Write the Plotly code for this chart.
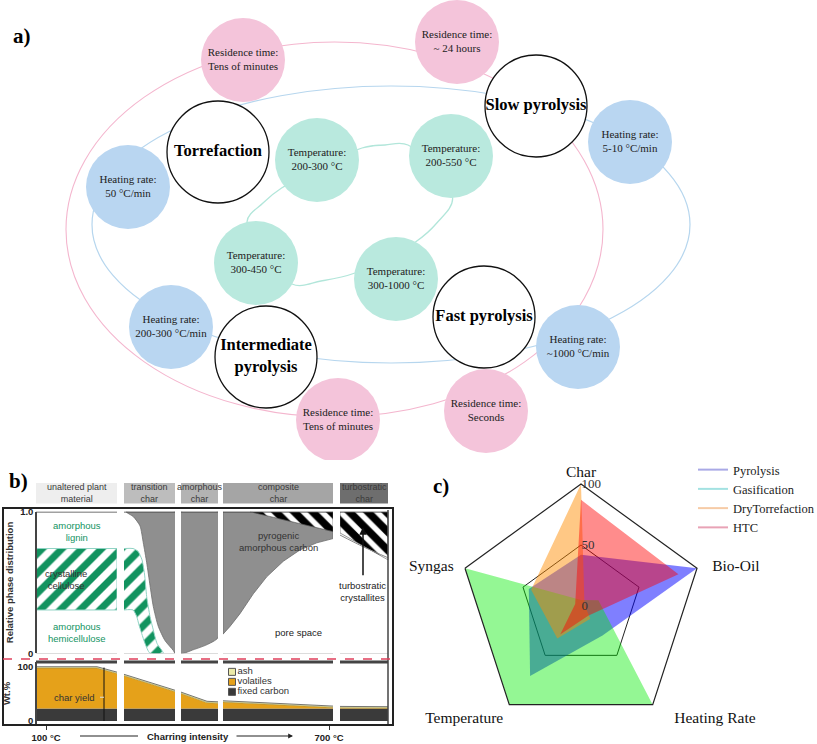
import plotly.graph_objects as go

W, H = 817, 744
SERIF = "Liberation Serif"
SANS = "Liberation Sans"
NB = "\u00a0"


def fx(px):
    return px / W


def fy(py):
    return 1 - py / H


# ---------------- panel c : radar data ----------------
radar_axes = ["Char", "Bio-Oil", "Heating Rate", "Temperature", "Syngas"]
pyrolysis = [42, 100, 30, 71, 45]
gasification = [5, 15, 100, 100, 100]
dry_torrefaction = [100, 3, 13, 33, 43]
htc = [87, 84, 10, 29, 5]
radar_ticks = [0, 50, 100]
series_names = ["Pyrolysis", "Gasification", "DryTorrefaction", "HTC"]

# ---------------- panel a : concept map ----------------
process_labels = ["<b>Torrefaction</b>", "<b>Slow pyrolysis</b>", "<b>Fast pyrolysis</b>",
                  "<b>Intermediate</b><br><b>pyrolysis</b>"]
process_x = [218, 536, 484, 266]
process_y = [152, 106, 317, 357]

residence_labels = ["Residence time:<br>Tens of minutes", "Residence time:<br>~ 24 hours",
                    "Residence time:<br>Seconds", "Residence time:<br>Tens of minutes"]
residence_x = [243, 457, 486, 338]
residence_y = [60, 42, 411, 420]

heating_labels = ["Heating rate:<br>50 °C/min", "Heating rate:<br>5-10 °C/min",
                  "Heating rate:<br>~1000 °C/min", "Heating rate:<br>200-300 °C/min"]
heating_x = [128, 630, 578, 171]
heating_y = [187, 142, 347, 327]

temperature_labels = ["Temperature:<br>200-300 °C", "Temperature:<br>200-550 °C",
                      "Temperature:<br>300-1000 °C", "Temperature:<br>300-450 °C"]
temperature_x = [317, 451, 396, 256]
temperature_y = [160, 156, 279, 263]

# loops linking the nodes
temperature_loop_x = [362, 385, 408, 452.6, 436.8, 415.8, 355, 321, 292, 247, 263, 281.6]
temperature_loop_y = [148, 145, 145, 198, 223, 241.7, 273, 281, 284, 222, 203, 188]
residence_ring = [66, 42, 603, 417]     # x0, y0, x1, y1
heating_ring = [92, 86, 690, 363]

# ---------------- panel b : char evolution ----------------
stage_names = ["unaltered plant<br>material", "transition<br>char", "amorphous<br>char",
               "composite<br>char", "turbostratic<br>char"]
stage_left = [36, 124, 181, 223, 340]
stage_right = [117, 175, 218, 333, 388]

cellulose_low, cellulose_high = 0.306, 0.74
trans_hatch_top_x = [124, 133, 138, 142, 144.5, 146.7, 150, 153.3, 157, 163.3]
trans_hatch_top_y = [0.74, 0.74, 0.72, 0.66, 0.56, 0.40, 0.26, 0.165, 0.07, 0.0]
trans_hatch_bot_x = [124, 133, 136.7, 139, 141.7, 145, 150]
trans_hatch_bot_y = [0.306, 0.306, 0.26, 0.20, 0.14, 0.07, 0.0]
trans_char_x = [126, 133.3, 140, 143.3, 146.7, 150, 153.3, 158.3, 165, 173.3, 175]
trans_char_y = [1.0, 0.965, 0.90, 0.78, 0.64, 0.48, 0.33, 0.19, 0.09, 0.02, 0.0]
amorph_char_x = [181, 193.3, 206.7, 218]
amorph_char_y = [0.0, 0.025, 0.06, 0.11]
comp_char_x = [223, 230, 240, 253.3, 266.7, 283.3, 300, 316.7, 333]
comp_char_y = [0.135, 0.19, 0.28, 0.42, 0.54, 0.65, 0.73, 0.78, 0.81]
comp_cryst_x = [250, 333]
comp_cryst_y = [1.0, 0.86]
turbo_x = [340, 388]
turbo_cryst_y = [0.85, 0.66]
turbo_char_x = [340, 364, 388]
turbo_char_y = [0.835, 0.75, 0.675]

wt_x = [36, 97, 117, 124, 175, 181, 207, 218, 223, 333, 340, 388]
fixed_carbon = [23, 23, 23, 23, 23, 23, 23, 23, 23, 23, 23, 23]
volatiles_top = [98, 98, 88, 84, 55, 51, 34, 33, 35, 24.5, 24.5, 24]
ash_width = [2.5, 2.5, 2.5, 2.5, 2.5, 2.5, 2.5, 2.5, 2.5, 2.5, 2.5, 2.5]
wt_legend = ["ash", "volatiles", "fixed carbon"]
wt_legend_y = [91, 72.5, 54]

# ---------------- styles ----------------
PINK, BLUE, TEAL = "#f4c4da", "#b9d6f1", "#b9e9de"
GREEN = "#12935f"
GRAY = "#8f8f8f"
stage_fill = ["#eeeeee", "#bdbdbd", "#b3b3b3", "#a5a5a5", "#6e6e6e"]

fig = go.Figure()

# ===== panel a =====
ta = dict(xaxis="x", yaxis="y", hoverinfo="skip", showlegend=False)
fig.add_trace(go.Scatter(
    x=[temperature_loop_x[-1]] + temperature_loop_x + temperature_loop_x[:2],
    y=[temperature_loop_y[-1]] + temperature_loop_y + temperature_loop_y[:2],
    mode="lines", line=dict(color="#b2e6da", width=1.3, shape="spline", smoothing=1.0), **ta))

for xs, ys, labels, col in [(residence_x, residence_y, residence_labels, PINK),
                            (heating_x, heating_y, heating_labels, BLUE),
                            (temperature_x, temperature_y, temperature_labels, TEAL)]:
    fig.add_trace(go.Scatter(
        x=xs, y=ys, text=labels, mode="markers+text", textposition="middle center",
        marker=dict(size=84, color=col, line=dict(width=0)),
        textfont=dict(family=SERIF, size=11, color="#222"), **ta))

fig.add_trace(go.Scatter(
    x=process_x, y=process_y, text=process_labels, mode="markers+text",
    textposition="middle center",
    marker=dict(size=102, color="white", line=dict(width=1.3, color="#111")),
    textfont=dict(family=SERIF, size=16.5, color="#000"), **ta))

# ===== panel b : upper =====
tb = dict(xaxis="x2", yaxis="y2", hoverinfo="skip", showlegend=False)
green_hatch = dict(shape="/", fgcolor=GREEN, bgcolor="white", fgopacity=1, fillmode="replace",
                   size=14, solidity=0.5)
black_hatch = dict(shape="\\", fgcolor="#000", bgcolor="white", fgopacity=1, fillmode="replace",
                   size=13, solidity=0.58)

fig.add_trace(go.Scatter(
    x=[stage_left[0], stage_right[0], stage_right[0], stage_left[0], stage_left[0]],
    y=[cellulose_low, cellulose_low, cellulose_high, cellulose_high, cellulose_low],
    fill="toself", fillpattern=green_hatch, mode="lines",
    line=dict(color="#8fd3c4", width=1), **tb))
fig.add_trace(go.Scatter(
    x=trans_hatch_top_x + trans_hatch_bot_x[::-1],
    y=trans_hatch_top_y + trans_hatch_bot_y[::-1],
    fill="toself", fillpattern=green_hatch, mode="lines",
    line=dict(color="#8fd3c4", width=1, shape="spline", smoothing=0.6), **tb))
fig.add_trace(go.Scatter(
    x=trans_char_x + [stage_right[1], trans_char_x[0]],
    y=trans_char_y + [1.0, 1.0],
    fill="toself", fillcolor=GRAY, mode="lines",
    line=dict(color="#6d6d6d", width=0.8, shape="spline", smoothing=0.6), **tb))
fig.add_trace(go.Scatter(
    x=amorph_char_x + [stage_right[2], stage_left[2], stage_left[2]],
    y=amorph_char_y + [1.0, 1.0, amorph_char_y[0]],
    fill="toself", fillcolor=GRAY, mode="lines",
    line=dict(color="#6d6d6d", width=0.8, shape="spline", smoothing=0.5), **tb))
fig.add_trace(go.Scatter(
    x=comp_char_x + comp_cryst_x[::-1] + [stage_left[3], stage_left[3]],
    y=comp_char_y + comp_cryst_y[::-1] + [1.0, comp_char_y[0]],
    fill="toself", fillcolor=GRAY, mode="lines",
    line=dict(color="#6d6d6d", width=0.8), **tb))
fig.add_trace(go.Scatter(
    x=comp_cryst_x + [comp_cryst_x[1], comp_cryst_x[0]],
    y=comp_cryst_y + [1.0, comp_cryst_y[0]],
    fill="toself", fillpattern=black_hatch, mode="lines",
    line=dict(color="#555", width=0.6), **tb))
fig.add_trace(go.Scatter(
    x=turbo_x + [turbo_x[1], turbo_x[0], turbo_x[0]],
    y=turbo_cryst_y + [1.0, 1.0, turbo_cryst_y[0]],
    fill="toself", fillpattern=black_hatch, mode="lines",
    line=dict(color="#555", width=0.6), **tb))
fig.add_trace(go.Scatter(x=turbo_char_x, y=turbo_char_y, mode="lines",
                         line=dict(color="#888", width=1, shape="spline"), **tb))

# ===== panel b : lower (wt.%) =====
tc = dict(xaxis="x2", yaxis="y3", hoverinfo="skip", showlegend=False)
ash_top = [v + a for v, a in zip(volatiles_top, ash_width)]
fig.add_trace(go.Scatter(x=wt_x, y=fixed_carbon, fill="tozeroy", fillcolor="#3a3a3a",
                         mode="lines", line=dict(width=0, color="#3a3a3a"), **tc))
fig.add_trace(go.Scatter(x=wt_x, y=volatiles_top, fill="tonexty", fillcolor="#e5a11a",
                         mode="lines", line=dict(width=0.6, color="#9b8a40"), **tc))
fig.add_trace(go.Scatter(x=wt_x, y=ash_top, fill="tonexty", fillcolor="#ecebaa",
                         mode="lines", line=dict(width=0.9, color="#666"), **tc))
fig.add_trace(go.Scatter(
    x=[232, 232, 232], y=wt_legend_y, text=wt_legend, mode="markers+text",
    textposition="middle right",
    marker=dict(symbol="square", size=7, color=["#ecebaa", "#e5a11a", "#3a3a3a"],
                line=dict(width=1, color="#555")),
    textfont=dict(family=SANS, size=9.5, color="#333"), **tc))

# ===== panel c : radar =====
fills = ["rgba(0,0,255,0.5)", "rgba(0,235,0,0.42)", "rgba(255,140,0,0.48)", "rgba(255,0,0,0.45)"]
legend_cols = ["#a9a9e6", "#a3e2e2", "#f6cba6", "#e8a3b6"]
for name, vals, fc in zip(series_names, [pyrolysis, gasification, dry_torrefaction, htc], fills):
    fig.add_trace(go.Scatterpolar(
        r=vals + vals[:1], theta=radar_axes + radar_axes[:1], fill="toself", fillcolor=fc,
        mode="lines", line=dict(color="rgba(0,0,0,0)", width=0), name=name,
        showlegend=False, hoverinfo="skip"))
for name, lc in zip(series_names, legend_cols):
    fig.add_trace(go.Scatterpolar(r=[None], theta=[radar_axes[0]], mode="lines", name=name,
                                  line=dict(color=lc, width=2), showlegend=True))

# angular labels, padded so they sit a little further from the vertices
pad_before = [0, 3, 5, 0, 0]
pad_after = [0, 0, 0, 1, 2]
angular_text = [NB * b + t + NB * a for t, b, a in zip(radar_axes, pad_before, pad_after)]

# ===== shapes =====
shapes = []
shapes.append(dict(type="circle", xref="x", yref="y", layer="below",
                   x0=residence_ring[0], y0=residence_ring[1], x1=residence_ring[2], y1=residence_ring[3],
                   line=dict(color="#f4b6ce", width=1.1)))
shapes.append(dict(type="circle", xref="x", yref="y", layer="below",
                   x0=heating_ring[0], y0=heating_ring[1], x1=heating_ring[2], y1=heating_ring[3],
                   line=dict(color="#b6d6ee", width=1.2)))

annotations = []
for i, nm in enumerate(stage_names):
    shapes.append(dict(type="rect", xref="x2", yref="paper", x0=stage_left[i], x1=stage_right[i],
                       y0=fy(503.5), y1=fy(483), fillcolor=stage_fill[i], line=dict(width=0)))
    annotations.append(dict(xref="x2", yref="paper", x=(stage_left[i] + stage_right[i]) / 2,
                            y=fy(493), text=nm, showarrow=False, xanchor="center", yanchor="middle",
                            font=dict(family=SANS, size=9, color="#3a3a3a")))

# gaps between stages
for i in range(4):
    shapes.append(dict(type="rect", xref="x2", yref="paper", x0=stage_right[i], x1=stage_left[i + 1],
                       y0=fy(724), y1=fy(509), fillcolor="white", line=dict(width=0), layer="above"))
# column frames
for i in range(5):
    shapes.append(dict(type="line", xref="x2", yref="y2", x0=stage_left[i], x1=stage_right[i],
                       y0=1.0, y1=1.0, line=dict(color="#444", width=1.8), layer="above"))
    shapes.append(dict(type="line", xref="x2", yref="y2", x0=stage_left[i], x1=stage_right[i],
                       y0=-0.01, y1=-0.01, line=dict(color="#444", width=3), layer="above"))
    shapes.append(dict(type="line", xref="x2", yref="y3 domain", x0=stage_left[i], x1=stage_right[i],
                       y0=1.0, y1=1.0, line=dict(color="#444", width=3), layer="above"))
shapes.append(dict(type="line", xref="x2", yref="paper", x0=stage_right[4], x1=stage_right[4],
                   y0=fy(725), y1=fy(510), line=dict(color="#444", width=1.5), layer="above"))
# outer frame
shapes.append(dict(type="rect", xref="paper", yref="paper", x0=fx(3), x1=fx(393), y0=fy(725), y1=fy(508),
                   line=dict(color="#222", width=2), layer="above"))
# separator
shapes.append(dict(type="line", xref="paper", yref="paper", x0=fx(3), x1=fx(393), y0=fy(659), y1=fy(659),
                   line=dict(color="#e0405c", width=1.5, dash="dash"), layer="above"))
# char yield marker
shapes.append(dict(type="line", xref="x2", yref="y3", x0=104, x1=104, y0=0, y1=99,
                   line=dict(color="#111", width=1), layer="above"))
shapes.append(dict(type="line", xref="x2", yref="y3", x0=100, x1=104, y0=44, y1=44,
                   line=dict(color="#ddd", width=1), layer="above"))
# arrow lines along the axis
shapes.append(dict(type="line", xref="x2", yref="paper", x0=80, x1=138, y0=fy(736), y1=fy(736),
                   line=dict(color="#222", width=1.2)))

# panel b texts
bt = [("amorphous<br>lignin", 77, 0.86, GREEN), ("crystalline<br>cellulose", 66, 0.52, "#333"),
      ("amorphous<br>hemicellulose", 77, 0.15, GREEN),
      ("pyrogenic<br>amorphous carbon", 278, 0.79, "#333"), ("pore space", 298, 0.15, "#222"),
      ("turbostratic<br>crystallites", 362, 0.44, "#222")]
for t, x, y, c in bt:
    annotations.append(dict(xref="x2", yref="y2", x=x, y=y, text=t, showarrow=False,
                            xanchor="center", yanchor="middle",
                            font=dict(family=SANS, size=9.5, color=c)))
annotations.append(dict(xref="x2", yref="y2", x=363, y=0.89, ax=363, ay=0.54, axref="x2", ayref="y2",
                        text="", showarrow=True, arrowhead=2, arrowsize=1, arrowwidth=1.5,
                        arrowcolor="#111"))
annotations.append(dict(xref="x2", yref="y3", x=97, y=44, text="char yield", showarrow=False,
                        xanchor="right", yanchor="middle",
                        font=dict(family=SANS, size=9.5, color="#333")))
annotations.append(dict(xref="x2", yref="paper", x=188, y=fy(736), text="<b>Charring intensity</b>",
                        showarrow=False, xanchor="center", yanchor="middle",
                        font=dict(family=SANS, size=9.5, color="#222")))
annotations.append(dict(xref="x2", yref="paper", x=293, y=fy(736), ax=235, ay=0, axref="x2",
                        ayref="pixel", text="", showarrow=True, arrowhead=2, arrowsize=0.8,
                        arrowwidth=1.2, arrowcolor="#222"))

# panel labels
for t, px, py in [("a)", 22, 36), ("b)", 18, 481), ("c)", 441, 486)]:
    annotations.append(dict(xref="paper", yref="paper", x=fx(px), y=fy(py), text="<b>%s</b>" % t,
                            showarrow=False, xanchor="center", yanchor="middle",
                            font=dict(family=SERIF, size=21, color="#000")))

fig.update_layout(
    width=W, height=H, margin=dict(l=0, r=0, t=0, b=0, autoexpand=False),
    paper_bgcolor="white", plot_bgcolor="rgba(0,0,0,0)",
    shapes=shapes, annotations=annotations,
    xaxis=dict(domain=[0, 1], range=[0, W], visible=False, fixedrange=True),
    yaxis=dict(domain=[fy(460), 1], range=[460, 0], visible=False, fixedrange=True),
    xaxis2=dict(domain=[0, fx(420)], range=[0, 420], anchor="free", position=fy(724),
                showgrid=False, zeroline=False, showline=False,
                tickvals=[46, 329], ticktext=["<b>100 °C</b>", "<b>700 °C</b>"],
                ticks="outside", ticklen=5, tickwidth=1.3, tickcolor="#333",
                tickfont=dict(family=SANS, size=9.5, color="#222")),
    yaxis2=dict(domain=[fy(653.3), fy(511.7)], range=[0, 1], anchor="free", position=fx(36),
                showgrid=False, zeroline=False, showline=True, linecolor="#444", linewidth=1.5,
                tickvals=[0, 1], ticktext=["<b>0</b>", "<b>1.0</b>"], ticks="",
                tickfont=dict(family=SANS, size=9.5, color="#222"),
                title=dict(text="<b>Relative phase distribution</b>", standoff=4,
                           font=dict(family=SANS, size=9.5, color="#333"))),
    yaxis3=dict(domain=[fy(725), fy(662)], range=[-7.41, 109.26], anchor="free", position=fx(36),
                showgrid=False, zeroline=False, showline=True, linecolor="#444", linewidth=1.5,
                tickvals=[0, 100], ticktext=["<b>0</b>", "<b>100</b>"], ticks="",
                tickfont=dict(family=SANS, size=9.5, color="#222"),
                title=dict(text="<b>Wt.%</b>", standoff=4,
                           font=dict(family=SANS, size=9.5, color="#333"))),
    polar=dict(
        domain=dict(x=[fx(459), fx(703)], y=[fy(728), fy(484)]),
        gridshape="linear", bgcolor="rgba(0,0,0,0)",
        radialaxis=dict(range=[0, 100], tickvals=radar_ticks, angle=90, tickangle=90, showline=False,
                        gridcolor="#222", gridwidth=1, ticks="",
                        tickfont=dict(family=SERIF, size=13, color="#333")),
        angularaxis=dict(rotation=90, direction="clockwise", showgrid=False, linecolor="#222",
                         linewidth=1.2, ticks="", tickmode="array", tickvals=radar_axes,
                         ticktext=angular_text,
                         tickfont=dict(family=SERIF, size=15.5, color="#111")),
    ),
    legend=dict(x=fx(693), y=fy(455), xanchor="left", yanchor="top", bgcolor="rgba(0,0,0,0)",
                traceorder="normal", font=dict(family=SERIF, size=12.5, color="#222"),
                itemwidth=30, tracegroupgap=0),
)

fig.write_html("out.html", config={"displayModeBar": False},
               post_script="document.body.style.margin='0px';")
